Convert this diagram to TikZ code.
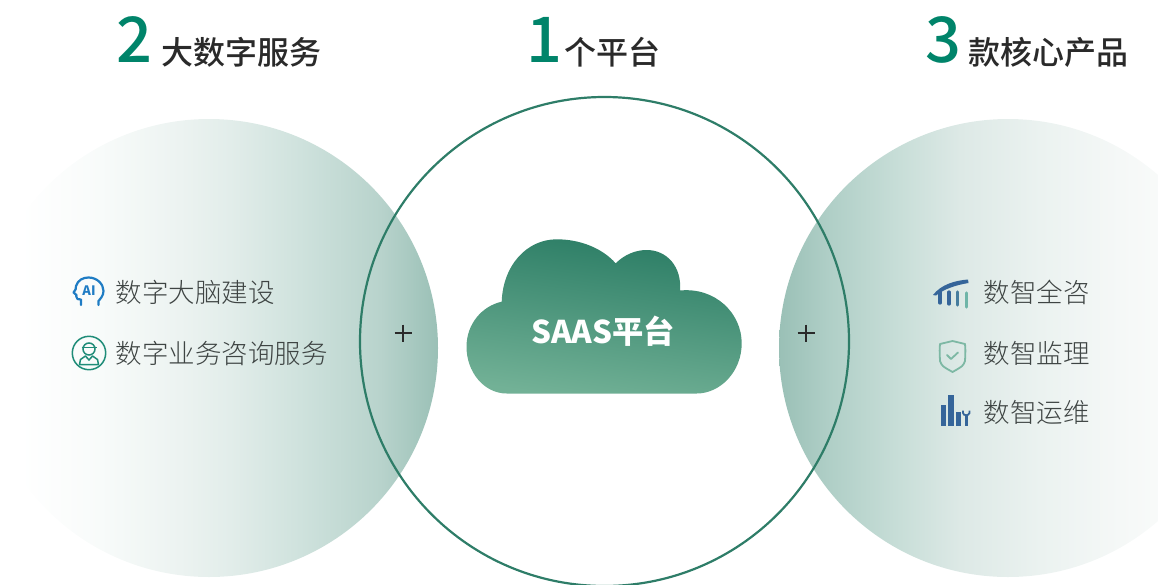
\documentclass[tikz,border=0pt]{standalone}
\usepackage{fontspec}
\setmainfont{Noto Sans CJK SC}
\newfontfamily\medf{Noto Sans CJK SC Medium}
\newfontfamily\lightf{Noto Sans CJK SC Light}
\definecolor{ringgreen}{HTML}{2E7D68}
\definecolor{clouddark}{HTML}{2A7C64}
\definecolor{cloudlight}{HTML}{72B196}
\definecolor{digitgreen}{HTML}{00846A}
\definecolor{darktxt}{HTML}{2A2A2A}
\definecolor{bodytxt}{HTML}{3E4443}
\definecolor{iconblue}{HTML}{35659A}
\definecolor{aiblue}{HTML}{1F7CC4}
\definecolor{teal1}{HTML}{1F8C78}
\definecolor{shieldc}{HTML}{7DB8A4}
\definecolor{chartteal}{HTML}{6FB5A8}
\definecolor{la}{HTML}{F8FBFA}
\definecolor{lb}{HTML}{ECF3F1}
\definecolor{lc}{HTML}{E2EDEA}
\definecolor{ld}{HTML}{CFE2DD}
\definecolor{le}{HTML}{B8D3CC}
\definecolor{lf}{HTML}{9AC0B6}
\definecolor{ra}{HTML}{B0CFC7}
\definecolor{rb}{HTML}{C8DED8}
\definecolor{rc}{HTML}{DDE9E6}
\definecolor{rd}{HTML}{EBF2F0}
\definecolor{re}{HTML}{F5F8F7}
\pgfdeclarehorizontalshading{leftlens}{100bp}{color(0bp)=(white); color(29.4bp)=(white); color(38.1bp)=(la); color(46.8bp)=(lb); color(52.3bp)=(lc); color(59.9bp)=(ld); color(68.7bp)=(le); color(75bp)=(lf); color(100bp)=(lf)}
\pgfdeclarehorizontalshading{rightlens}{100bp}{color(0bp)=(lf); color(25bp)=(lf); color(30.6bp)=(ra); color(38.2bp)=(rb); color(44.8bp)=(rc); color(53.5bp)=(rd); color(62.2bp)=(re); color(75bp)=(white); color(100bp)=(white)}
\tikzset{
  digit/.style={font=\medf\fontsize{63}{63}\selectfont,text=digitgreen,inner sep=0pt},
  heading/.style={font=\medf\fontsize{32}{32}\selectfont,text=darktxt,inner sep=0pt},
  item/.style={font=\lightf\fontsize{26.5}{27}\selectfont,text=bodytxt,inner sep=0pt,anchor=west},
}
\begin{document}
\begin{tikzpicture}[x=1pt,y=-1pt]
\useasboundingbox (0,0) rectangle (1158,584);
\clip (0,0) rectangle (1158,584);
% lenses
\shade[shading=leftlens] (209,348) circle[radius=229];
\shade[shading=rightlens] (1008,348) circle[radius=229];
% centre ring
\draw[ringgreen,line width=2.2pt] (604.5,341.5) circle[radius=244.5];
% cloud
\path[top color=clouddark,bottom color=cloudlight,shading angle=-8,draw=none]
 (506.7,393.5) .. controls (484,393.5) and (466.5,372) .. (466.5,346.7)
 .. controls (466.5,324) and (482,306) .. (501.7,301.7)
 .. controls (503,265) and (527,239.3) .. (556.7,239.3)
 .. controls (580,239.3) and (602,248) .. (615.7,263.3)
 .. controls (624,255) and (635,250) .. (646.7,250)
 .. controls (667,250) and (682,267) .. (680,290.5)
 .. controls (715,287) and (741.7,313) .. (741.7,343.3)
 .. controls (741.7,372) and (720,393.5) .. (696.7,393.5) -- cycle;
\node[font=\bfseries\fontsize{31.3}{31}\selectfont,text=white,inner sep=0pt] (saas) at (603,331) {SAAS平台};
% headings
\node[digit] (d2) at (134.5,40) {2};
\node[heading] (h2) at (241,52) {大数字服务};
\node[digit] (d1) at (544,40) {1};
\node[heading] (h1) at (612,52) {个平台};
\node[digit] (d3) at (943.5,40) {3};
\node[heading] (h3) at (1048,52) {款核心产品};
% plus
\draw[darktxt,line width=1.1pt] (394.5,333) -- (411.5,333);
\draw[darktxt,line width=1.1pt] (403,324.5) -- (403,341.5);
\draw[darktxt,line width=1.1pt] (797.5,333) -- (814.5,333);
\draw[darktxt,line width=1.1pt] (806,324.5) -- (806,341.5);
% items
\node[item] (i1) at (115.5,292.5) {数字大脑建设};
\node[item] (i2) at (115.5,354) {数字业务咨询服务};
\node[item] (i3) at (983.5,292.5) {数智全咨};
\node[item] (i4) at (983.5,353.5) {数智监理};
\node[item] (i5) at (983.5,412.5) {数智运维};
% AI head icon
\draw[aiblue,line width=2.2pt,line join=round,line cap=round]
 (81,305) -- (81,299.5) -- (77.5,299) .. controls (76,296) .. (76.5,295) -- (73.5,292.5)
 .. controls (76,289) .. (76,286) .. controls (78,280) and (83,277.5) .. (88.5,277.5)
 .. controls (97,277.5) and (103.5,284) .. (103.5,291) .. controls (103.5,296) and (100,299) .. (98.5,301) -- (98.5,305);
\node[font=\bfseries\fontsize{13}{13}\selectfont,text=aiblue,inner sep=0pt] (ai) at (89,290.5) {AI};
% advisor icon
\draw[teal1,line width=1.5pt] (89,353) circle[radius=16.7];
\draw[teal1,line width=1.5pt] (89,349) circle[radius=6];
\draw[teal1,line width=1.5pt] (81.5,347.5) -- (96.5,347.5);
\draw[teal1,line width=1.5pt,line join=round] (79.5,364.5) -- (80.5,359.5) -- (85.5,356) -- (89,360) -- (92.5,356) -- (97.5,359.5) -- (98.5,364.5) -- cycle;
% trend icon
\fill[iconblue] (933,295) .. controls (941,284.5) and (955,280.5) .. (968,279.5) -- (968.5,283)
 .. controls (956,285) and (944,289) .. (936,295.5) -- cycle;
\draw[iconblue,line width=3.2pt,line cap=round] (940,292) -- (940,303);
\draw[iconblue,line width=3.2pt,line cap=round] (949,292) -- (949,304);
\draw[iconblue!70!chartteal,line width=3.2pt,line cap=round] (957.5,292) -- (957.5,305);
\draw[chartteal,line width=3.2pt,line cap=round] (966.5,293) -- (966.5,307);
% shield icon
\draw[shieldc,line width=1.8pt,line join=round] (952.5,341) -- (965,344) .. controls (965.5,350) .. (965,361) .. controls (963,366) .. (952.5,372)
 .. controls (942,366) .. (940,361) .. controls (939.5,350) .. (940,344) -- cycle;
\draw[shieldc,line width=1.8pt,line cap=round,line join=round] (947,355) -- (951,359) -- (958,352.5);
% bars and wrench icon
\fill[iconblue] (940.7,405) rectangle (946,425.5);
\fill[iconblue] (948.3,395) rectangle (954,425.5);
\fill[iconblue] (956,412) rectangle (960.7,425.5);
\fill[iconblue] (965,415) rectangle (967.5,425.5);
\draw[iconblue,line width=1.8pt] (963,410.5) -- (963,413) .. controls (963.5,416) and (968.5,416) .. (969.5,413) -- (969.5,410.5);
\end{tikzpicture}
\end{document}
